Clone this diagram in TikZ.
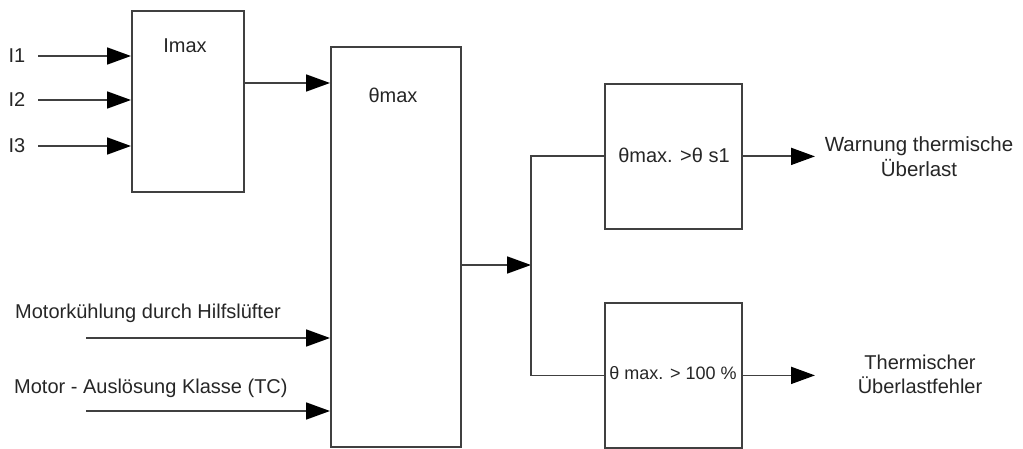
\documentclass[tikz,border=0pt]{standalone}
\usepackage{fontspec}
\setmainfont{Liberation Sans}
\usetikzlibrary{arrows.meta}
\begin{document}
\begin{tikzpicture}[x=1pt,y=-1pt,
  font=\fontsize{20}{24}\selectfont,
  blk/.style={draw=black!75, line width=1.8pt, inner sep=0pt, anchor=north west},
  conn/.style={draw=black!75, line width=1.8pt},
  arr/.style={conn, -{Triangle[length=24pt,width=17pt,color=black,fill=black]}},
  lbl/.style={inner sep=0pt, text=black!85}]
\useasboundingbox (0,0) rectangle (1023,449);

% blocks
\node[blk, minimum width=112pt, minimum height=181pt] (imax) at (131,10) {};
\node[blk, minimum width=130pt, minimum height=400pt] (tmax) at (330,46) {};
\node[blk, minimum width=137pt, minimum height=145pt] (warn) at (604,83) {};
\node[blk, minimum width=137pt, minimum height=145pt] (fault) at (604,302) {};

% block captions
\node[lbl] (imaxt) at (185,46) {Imax};
\node[lbl] (tmaxt) at (393,95) {θmax};
\node[lbl] (warnt) at (674,155) {θmax. >θ s1};
\node[lbl, font=\fontsize{18}{22}\selectfont] (faultt) at (673,373) {θ max. > 100 \%};

% current inputs
\node[lbl] (li1) at (17,56) {I1};
\node[lbl] (li2) at (17,100) {I2};
\node[lbl] (li3) at (17,146) {I3};
\coordinate (i1) at (38,56);
\coordinate (i2) at (38,100);
\coordinate (i3) at (38,146);
\draw[arr] (i1) -- (imax.west |- i1);
\draw[arr] (i2) -- (imax.west |- i2);
\draw[arr] (i3) -- (imax.west |- i3);

% Imax to thermal model
\coordinate (im) at (243,83);
\draw[arr] (im) -- (tmax.west |- im);

% motor parameters
\node[lbl, anchor=west] (lfan) at (15,313) {Motorkühlung durch Hilfslüfter};
\node[lbl, anchor=west] (ltc) at (14,388) {Motor - Auslösung Klasse (TC)};
\coordinate (fan) at (86,338);
\coordinate (tc) at (86,411);
\draw[arr] (fan) -- (tmax.west |- fan);
\draw[arr] (tc) -- (tmax.west |- tc);

% branch to comparators
\coordinate (j) at (531,265);
\draw[arr] (tmax.east |- j) -- (j);
\draw[conn] (warn.west) -| (j) |- (fault.west);

% outputs
\coordinate (wo) at (815,0);
\draw[arr] (warn.east) -- (warn.east -| wo);
\draw[arr] (fault.east) -- (fault.east -| wo);
\node[lbl, align=center, font=\fontsize{20.5}{25}\selectfont] (lwarn) at (919,157) {Warnung thermische\\Überlast};
\node[lbl, align=center] (lfault) at (920,374) {Thermischer\\Überlastfehler};
\end{tikzpicture}
\end{document}
